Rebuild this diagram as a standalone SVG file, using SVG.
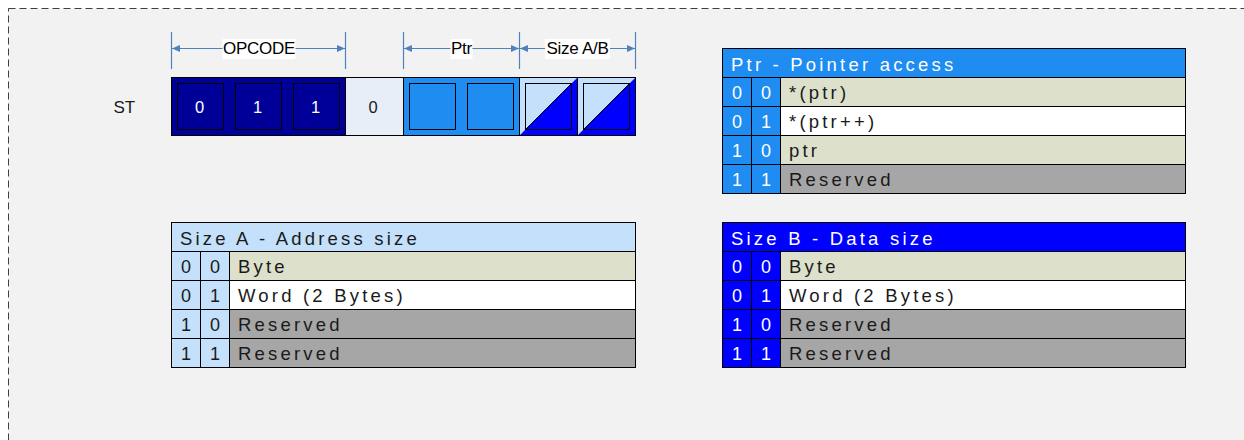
<svg xmlns="http://www.w3.org/2000/svg" width="1244" height="440" viewBox="0 0 1244 440">
<style>
  text { font-family: "Liberation Sans", Arial, sans-serif; }
  .lbl { font-size: 17px; fill: #000; text-anchor: middle; letter-spacing: -0.3px; }
  .bit { font-size: 16.5px; text-anchor: middle; }
  .tb { font-size: 18px; text-anchor: middle; }
  .w { fill: #ffffff; }
  .k { fill: #1a1a1a; }
  .tt { font-size: 18.5px; letter-spacing: 3.2px; }
  .cell { stroke: #000; stroke-width: 1; }
  .dim { stroke: #4F81BD; stroke-width: 1.2; fill: none; }
  .tick { stroke: #4F81BD; stroke-width: 1.2; }
  .navy { fill: #000099; }
  .pale { fill: #E8EEF8; }
  .pblue { fill: #1E8CF0; }
  .lblue { fill: #C5E0FA; }
  .blue { fill: #0000FF; }
  .beige { fill: #DDE1CC; }
  .white { fill: #FFFFFF; }
  .gray { fill: #A6A6A6; }
  .inner { fill: none; stroke: #000; stroke-width: 1; }
</style>
<defs>
  <marker id="arr" viewBox="0 0 8 7" refX="8" refY="3.5" markerWidth="8" markerHeight="7" markerUnits="userSpaceOnUse" orient="auto-start-reverse">
    <path d="M0,0 L8,3.5 L0,7 z" fill="#4F81BD"/>
  </marker>
</defs>

<rect x="0" y="0" width="1244" height="440" fill="#ffffff"/>
<rect x="8.5" y="8.5" width="1300" height="500" fill="#F2F2F2" stroke="#404040" stroke-width="1" stroke-dasharray="7,4"/>

<g id="connectors">
  <line class="tick" x1="171.5" y1="32" x2="171.5" y2="69"/>
  <line class="tick" x1="345.5" y1="32" x2="345.5" y2="69"/>
  <line class="tick" x1="403.5" y1="32" x2="403.5" y2="69"/>
  <line class="tick" x1="519.5" y1="32" x2="519.5" y2="69"/>
  <line class="tick" x1="635.5" y1="32" x2="635.5" y2="69"/>
  <line class="dim" x1="172" y1="48.5" x2="345" y2="48.5" marker-start="url(#arr)" marker-end="url(#arr)"/>
  <line class="dim" x1="404" y1="48.5" x2="519" y2="48.5" marker-start="url(#arr)" marker-end="url(#arr)"/>
  <line class="dim" x1="520" y1="48.5" x2="635" y2="48.5" marker-start="url(#arr)" marker-end="url(#arr)"/>
  <rect x="222.5" y="39" width="73" height="20" fill="#ffffff"/>
  <rect x="450.5" y="39" width="22" height="20" fill="#ffffff"/>
  <rect x="545" y="39" width="65" height="20" fill="#ffffff"/>
  <text class="lbl" x="259" y="54.3">OPCODE</text>
  <text class="lbl" x="461.5" y="54.3">Ptr</text>
  <text class="lbl" x="577.5" y="54.3">Size A/B</text>
</g>

<g id="register">
  <text x="113.5" y="113" style="font-size:17px" fill="#1a1a1a">ST</text>
  <rect class="navy" x="171.5" y="77.5" width="174" height="58"/>
  <rect class="pale" x="345.5" y="77.5" width="58" height="58"/>
  <rect class="pblue" x="403.5" y="77.5" width="116" height="58"/>
  <polygon class="lblue" points="519.5,77.5 577.5,77.5 519.5,135.5"/>
  <polygon class="blue" points="577.5,77.5 577.5,135.5 519.5,135.5"/>
  <polygon class="lblue" points="577.5,77.5 635.5,77.5 577.5,135.5"/>
  <polygon class="blue" points="635.5,77.5 635.5,135.5 577.5,135.5"/>
  <rect class="inner" x="177.5" y="83.5" width="46" height="46"/>
  <rect class="inner" x="235.5" y="83.5" width="46" height="46"/>
  <rect class="inner" x="293.5" y="83.5" width="46" height="46"/>
  <rect class="inner" x="409.5" y="83.5" width="46" height="46"/>
  <rect class="inner" x="467.5" y="83.5" width="46" height="46"/>
  <rect class="inner" x="525.5" y="83.5" width="46" height="46"/>
  <rect class="inner" x="583.5" y="83.5" width="46" height="46"/>
  <line x1="525.5" y1="129.5" x2="571.5" y2="83.5" stroke="#000" stroke-width="1"/>
  <line x1="583.5" y1="129.5" x2="629.5" y2="83.5" stroke="#000" stroke-width="1"/>
  <line x1="345.5" y1="77.5" x2="345.5" y2="135.5" stroke="#000"/>
  <line x1="403.5" y1="77.5" x2="403.5" y2="135.5" stroke="#000"/>
  <line x1="519.5" y1="77.5" x2="519.5" y2="135.5" stroke="#000"/>
  <line x1="577.5" y1="77.5" x2="577.5" y2="135.5" stroke="#000"/>
  <rect x="171.5" y="77.5" width="464" height="58" fill="none" stroke="#000"/>
  <text class="bit w" x="199.5" y="113.3">0</text>
  <text class="bit w" x="257.5" y="113.3">1</text>
  <text class="bit w" x="315.5" y="113.3">1</text>
  <text class="bit k" x="373" y="113.3">0</text>
</g>

<g id="table-ptr">
  <rect class="cell pblue" x="722.5" y="48.5" width="463" height="29"/>
  <text class="tt w" x="731" y="71">Ptr - Pointer access</text>
  <rect class="cell pblue" x="722.5" y="77.5" width="29" height="29"/>
  <rect class="cell pblue" x="751.5" y="77.5" width="29" height="29"/>
  <rect class="cell beige" x="780.5" y="77.5" width="405" height="29"/>
  <rect class="cell pblue" x="722.5" y="106.5" width="29" height="29"/>
  <rect class="cell pblue" x="751.5" y="106.5" width="29" height="29"/>
  <rect class="cell white" x="780.5" y="106.5" width="405" height="29"/>
  <rect class="cell pblue" x="722.5" y="135.5" width="29" height="29"/>
  <rect class="cell pblue" x="751.5" y="135.5" width="29" height="29"/>
  <rect class="cell beige" x="780.5" y="135.5" width="405" height="29"/>
  <rect class="cell pblue" x="722.5" y="164.5" width="29" height="29"/>
  <rect class="cell pblue" x="751.5" y="164.5" width="29" height="29"/>
  <rect class="cell gray" x="780.5" y="164.5" width="405" height="29"/>
  <text class="tb w" x="737" y="99">0</text><text class="tb w" x="766" y="99">0</text>
  <text class="tb w" x="737" y="128">0</text><text class="tb w" x="766" y="128">1</text>
  <text class="tb w" x="737" y="157">1</text><text class="tb w" x="766" y="157">0</text>
  <text class="tb w" x="737" y="186">1</text><text class="tb w" x="766" y="186">1</text>
  <text class="tt k" x="789" y="99">*(ptr)</text>
  <text class="tt k" x="789" y="128">*(ptr++)</text>
  <text class="tt k" x="789" y="157">ptr</text>
  <text class="tt k" x="789" y="186">Reserved</text>
</g>

<g id="table-size-a">
  <rect class="cell lblue" x="171.5" y="222.5" width="464" height="29"/>
  <text class="tt k" x="180" y="244.5">Size A - Address size</text>
  <rect class="cell lblue" x="171.5" y="251.5" width="29" height="29"/>
  <rect class="cell lblue" x="200.5" y="251.5" width="29" height="29"/>
  <rect class="cell beige" x="229.5" y="251.5" width="406" height="29"/>
  <rect class="cell lblue" x="171.5" y="280.5" width="29" height="29"/>
  <rect class="cell lblue" x="200.5" y="280.5" width="29" height="29"/>
  <rect class="cell white" x="229.5" y="280.5" width="406" height="29"/>
  <rect class="cell lblue" x="171.5" y="309.5" width="29" height="29"/>
  <rect class="cell lblue" x="200.5" y="309.5" width="29" height="29"/>
  <rect class="cell gray" x="229.5" y="309.5" width="406" height="29"/>
  <rect class="cell lblue" x="171.5" y="338.5" width="29" height="29"/>
  <rect class="cell lblue" x="200.5" y="338.5" width="29" height="29"/>
  <rect class="cell gray" x="229.5" y="338.5" width="406" height="29"/>
  <text class="tb k" x="186" y="273">0</text><text class="tb k" x="215" y="273">0</text>
  <text class="tb k" x="186" y="302">0</text><text class="tb k" x="215" y="302">1</text>
  <text class="tb k" x="186" y="331">1</text><text class="tb k" x="215" y="331">0</text>
  <text class="tb k" x="186" y="360">1</text><text class="tb k" x="215" y="360">1</text>
  <text class="tt k" x="238" y="273">Byte</text>
  <text class="tt k" x="238" y="302">Word (2 Bytes)</text>
  <text class="tt k" x="238" y="331">Reserved</text>
  <text class="tt k" x="238" y="360">Reserved</text>
</g>

<g id="table-size-b">
  <rect class="cell blue" x="722.5" y="222.5" width="463" height="29"/>
  <text class="tt w" x="731" y="244.5">Size B - Data size</text>
  <rect class="cell blue" x="722.5" y="251.5" width="29" height="29"/>
  <rect class="cell blue" x="751.5" y="251.5" width="29" height="29"/>
  <rect class="cell beige" x="780.5" y="251.5" width="405" height="29"/>
  <rect class="cell blue" x="722.5" y="280.5" width="29" height="29"/>
  <rect class="cell blue" x="751.5" y="280.5" width="29" height="29"/>
  <rect class="cell white" x="780.5" y="280.5" width="405" height="29"/>
  <rect class="cell blue" x="722.5" y="309.5" width="29" height="29"/>
  <rect class="cell blue" x="751.5" y="309.5" width="29" height="29"/>
  <rect class="cell gray" x="780.5" y="309.5" width="405" height="29"/>
  <rect class="cell blue" x="722.5" y="338.5" width="29" height="29"/>
  <rect class="cell blue" x="751.5" y="338.5" width="29" height="29"/>
  <rect class="cell gray" x="780.5" y="338.5" width="405" height="29"/>
  <text class="tb w" x="737" y="273">0</text><text class="tb w" x="766" y="273">0</text>
  <text class="tb w" x="737" y="302">0</text><text class="tb w" x="766" y="302">1</text>
  <text class="tb w" x="737" y="331">1</text><text class="tb w" x="766" y="331">0</text>
  <text class="tb w" x="737" y="360">1</text><text class="tb w" x="766" y="360">1</text>
  <text class="tt k" x="789" y="273">Byte</text>
  <text class="tt k" x="789" y="302">Word (2 Bytes)</text>
  <text class="tt k" x="789" y="331">Reserved</text>
  <text class="tt k" x="789" y="360">Reserved</text>
</g>
</svg>
